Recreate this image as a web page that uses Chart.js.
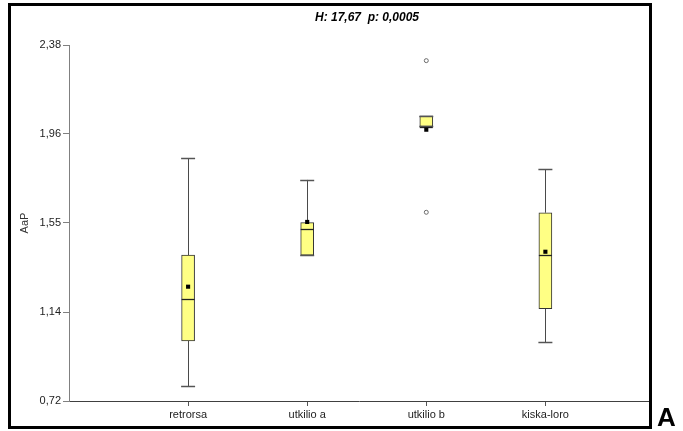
<!DOCTYPE html>
<html>
<head>
<meta charset="utf-8">
<script src="https://cdn.jsdelivr.net/npm/chart.js@4.4.1/dist/chart.umd.min.js"></script>
<style>
  html, body { margin: 0; padding: 0; background: #ffffff; }
  #wrap { position: relative; width: 683px; height: 431px; }
</style>
</head>
<body>
<div id="wrap"><canvas id="c" width="683" height="431"></canvas></div>
<script>
// Groups and their box-plot statistics (AaP)
const categories  = ['retrorsa', 'utkilio a', 'utkilio b', 'kiska-loro'];
const whiskerLow  = [0.79,  1.40,  2.00,  0.995];
const boxQ1       = [1.00,  1.40,  2.00,  1.15];
const medians     = [1.195, 1.52,  1.997, 1.40];
const boxQ3       = [1.40,  1.552, 2.05,  1.598];
const whiskerHigh = [1.852, 1.751, 2.05,  1.80];
const means       = [1.253, 1.555, 1.985, 1.416];

// Points beyond the whiskers
const outlierCat = ['utkilio b', 'utkilio b'];
const outlierVal = [2.307, 1.60];

// Value axis ticks
const yTickValues = [0.72, 1.135, 1.55, 1.965, 2.38];
const yTickLabels = ['0,72', '1,14', '1,55', '1,96', '2,38'];

const titleText = 'H: 17,67  p: 0,0005';
const yTitle = 'AaP';
const panelLetter = 'A';

// Each group sits at an integer position on a linear x scale
const catPos = categories.map((_, i) => i + 1);
const boxData = catPos.map((x, i) => ({ x: x, y: [boxQ1[i], boxQ3[i]] }));
const meanData = catPos.map((x, i) => ({ x: x, y: means[i] }));
const outlierData = outlierCat.map((c, i) => ({ x: categories.indexOf(c) + 1, y: outlierVal[i] }));

const BOX_W = 13;
const FONT = '"Liberation Sans", Arial, sans-serif';

function seg(ctx, x1, y1, x2, y2) {
  ctx.beginPath();
  ctx.moveTo(x1, y1);
  ctx.lineTo(x2, y2);
  ctx.stroke();
}

// Whiskers under the boxes, medians and caps on top of them
const boxWhiskers = {
  id: 'boxWhiskers',
  beforeDatasetsDraw(chart) {
    const { ctx, scales: { x, y } } = chart;
    ctx.save();
    ctx.strokeStyle = '#4a4a4a';
    ctx.lineWidth = 1;
    catPos.forEach((p, i) => {
      const px = Math.round(x.getPixelForValue(p)) + 0.5;
      if (whiskerHigh[i] > boxQ3[i]) seg(ctx, px, y.getPixelForValue(boxQ3[i]), px, y.getPixelForValue(whiskerHigh[i]));
      if (whiskerLow[i] < boxQ1[i]) seg(ctx, px, y.getPixelForValue(boxQ1[i]), px, y.getPixelForValue(whiskerLow[i]));
    });
    ctx.restore();
  },
  afterDatasetDraw(chart, args) {
    if (args.meta.type !== 'bar') return;
    const { ctx, scales: { x, y } } = chart;
    ctx.save();
    catPos.forEach((p, i) => {
      const cx = x.getPixelForValue(p);
      const l = cx - BOX_W / 2, r = cx + BOX_W / 2;
      ctx.strokeStyle = '#555555';
      ctx.lineWidth = 1.5;
      [whiskerLow[i], whiskerHigh[i]].forEach(v => {
        const py = Math.round(y.getPixelForValue(v)) + 0.5;
        seg(ctx, l - 0.5, py, r + 0.5, py);
      });
      ctx.strokeStyle = '#222222';
      ctx.lineWidth = 1.3;
      const my = Math.round(y.getPixelForValue(medians[i])) + 0.5;
      seg(ctx, l, my, r, my);
    });
    ctx.restore();
  }
};

// Outer frame, heading and panel letter
const decorations = {
  id: 'decorations',
  afterDraw(chart) {
    const { ctx } = chart;
    ctx.save();
    ctx.strokeStyle = '#000000';
    ctx.lineWidth = 3;
    ctx.strokeRect(9.5, 4.5, 641, 423);
    ctx.fillStyle = '#000000';
    ctx.font = 'italic bold 12px ' + FONT;
    ctx.textAlign = 'center';
    ctx.textBaseline = 'middle';
    ctx.fillText(titleText, 367, 18);
    ctx.font = 'bold 26px ' + FONT;
    ctx.textAlign = 'left';
    ctx.textBaseline = 'alphabetic';
    ctx.fillText(panelLetter, 657, 426);
    ctx.restore();
  }
};

new Chart(document.getElementById('c'), {
  type: 'bar',
  data: {
    datasets: [
      {
        type: 'scatter',
        data: meanData,
        order: 1,
        pointStyle: 'rect',
        pointRadius: 2.9,
        pointHoverRadius: 2.9,
        pointBorderWidth: 0,
        pointBackgroundColor: '#000000'
      },
      {
        type: 'scatter',
        data: outlierData,
        order: 2,
        pointStyle: 'circle',
        pointRadius: 2,
        pointHoverRadius: 2,
        pointBorderWidth: 1,
        pointBorderColor: '#6a6a6a',
        pointBackgroundColor: '#ffffff'
      },
      {
        type: 'bar',
        data: boxData,
        order: 3,
        barThickness: BOX_W,
        backgroundColor: '#ffff84',
        borderColor: '#333333',
        borderWidth: 1,
        borderSkipped: false
      }
    ]
  },
  options: {
    responsive: false,
    animation: false,
    events: [],
    layout: { padding: { left: 10, right: 34, top: 45, bottom: 0 } },
    plugins: {
      legend: { display: false },
      tooltip: { enabled: false },
      title: { display: false }
    },
    scales: {
      x: {
        type: 'linear',
        min: 0,
        max: 4.87,
        offset: false,
        afterFit(s) { s.height = 30; },
        afterBuildTicks(s) { s.ticks = catPos.map(v => ({ value: v })); },
        grid: { display: true, drawOnChartArea: false, drawTicks: true, tickLength: 5, offset: false, color: '#555555' },
        border: { display: true, color: '#404040', width: 1 },
        ticks: {
          autoSkip: false,
          maxRotation: 0,
          padding: 2,
          color: '#222222',
          font: { family: FONT, size: 11 },
          callback: (v) => categories[Math.round(v) - 1] || ''
        }
      },
      y: {
        type: 'linear',
        min: yTickValues[0],
        max: yTickValues[yTickValues.length - 1],
        afterFit(s) { s.width = 59; },
        afterBuildTicks(s) { s.ticks = yTickValues.map(v => ({ value: v })); },
        grid: { display: true, drawOnChartArea: false, drawTicks: true, tickLength: 6, color: '#808080' },
        border: { display: true, color: '#808080', width: 1 },
        ticks: {
          padding: 2,
          color: '#222222',
          font: { family: FONT, size: 11 },
          callback: (v, i) => yTickLabels[i]
        },
        title: {
          display: true,
          text: yTitle,
          color: '#333333',
          font: { family: FONT, size: 11 },
          padding: { top: 8, bottom: 0 }
        }
      }
    }
  },
  plugins: [boxWhiskers, decorations]
});
</script>
</body>
</html>
